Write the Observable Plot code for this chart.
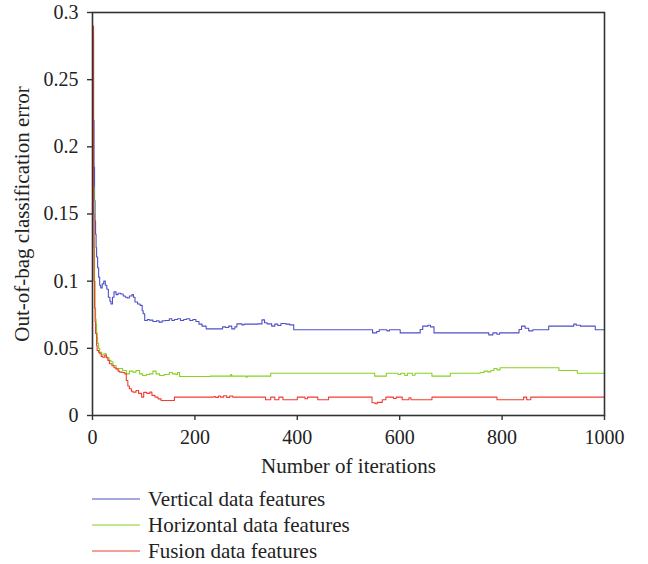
<!DOCTYPE html>
<html>
<head>
<meta charset="utf-8">
<script src="https://cdn.jsdelivr.net/npm/d3@7"></script>
<script src="https://cdn.jsdelivr.net/npm/@observablehq/plot@0.6"></script>
<style>
  html, body { margin: 0; padding: 0; background: #fff; }
  #wrap { position: relative; width: 648px; height: 564px; font-family: "Liberation Serif", "Times New Roman", serif; color: #222; }
  #legend { position: absolute; left: 0; top: 480px; width: 648px; }
  .row { position: absolute; left: 92px; height: 26px; display: flex; align-items: center; font-size: 21px; white-space: nowrap; }
  .row svg { margin-right: 8px; }
</style>
</head>
<body>
<div id="wrap"><div id="chart"></div><div id="legend"></div></div>
<script>
// ---- data ----
const seriesNames = ["Vertical data features", "Horizontal data features", "Fusion data features"];
const seriesColors = ["#4f4fc8", "#86d21e", "#f23c32"];

const xTicks = [0, 200, 400, 600, 800, 1000];
const xTickLabels = ["0", "200", "400", "600", "800", "1000"];
const yTicks = [0, 0.05, 0.1, 0.15, 0.2, 0.25, 0.3];
const yTickLabels = ["0", "0.05", "0.1", "0.15", "0.2", "0.25", "0.3"];

const verticalIter = [1,2,3,4,5,6,7,8,10,12,14,16,19,22,25,28,31,34,36,39,42,46,50,55,60,64,68,72,77,80,83,88,93,97,99,102,107,111,118,125,130,136,142,150,155,160,166,172,178,184,190,196,202,208,214,222,254,260,266,272,278,282,292,296,322,331,336,341,350,356,362,368,378,385,393,547,555,560,575,580,601,640,645,655,660,667,774,782,790,795,833,838,845,852,860,891,940,945,953,982,1000];
const verticalErr = [0.285,0.22,0.185,0.16,0.145,0.135,0.125,0.118,0.11,0.103,0.097,0.095,0.098,0.1,0.097,0.094,0.088,0.085,0.083,0.088,0.092,0.09,0.091,0.0905,0.089,0.088,0.0875,0.089,0.09,0.088,0.0845,0.083,0.082,0.078,0.0757,0.0707,0.0715,0.071,0.07,0.0705,0.0695,0.0705,0.0707,0.072,0.0707,0.0715,0.072,0.0707,0.0715,0.072,0.0707,0.0715,0.07,0.068,0.0665,0.0645,0.066,0.0655,0.0665,0.0645,0.066,0.0682,0.0675,0.068,0.0682,0.0712,0.069,0.0682,0.0665,0.068,0.067,0.0685,0.068,0.0675,0.0638,0.0615,0.0625,0.0638,0.063,0.0638,0.0615,0.064,0.0665,0.0672,0.066,0.0615,0.06,0.0615,0.0605,0.0615,0.064,0.0665,0.065,0.063,0.0638,0.0665,0.068,0.0672,0.0665,0.0638,0.0638];

const horizontalIter = [1,2,3,4,5,6,7,8,9,10,12,14,18,22,27,32,36,40,46,52,59,66,72,79,85,92,98,105,111,118,124,131,140,150,156,163,166,170,230,270,272,300,302,348,551,574,597,602,610,615,625,630,663,699,757,765,772,778,784,790,796,911,947,1000];
const horizontalErr = [0.28,0.17,0.125,0.1,0.08,0.072,0.068,0.062,0.058,0.0536,0.05,0.047,0.045,0.046,0.0434,0.041,0.04,0.0372,0.0347,0.035,0.0335,0.031,0.033,0.0323,0.0335,0.031,0.0298,0.0305,0.031,0.033,0.031,0.0298,0.0305,0.032,0.031,0.0305,0.032,0.029,0.0293,0.0305,0.0293,0.0285,0.0293,0.0315,0.0293,0.0315,0.0305,0.0315,0.0298,0.0315,0.03,0.0315,0.0293,0.0315,0.032,0.033,0.0325,0.0335,0.035,0.034,0.0355,0.0335,0.0315,0.0315];

const fusionIter = [1,2,3,4,5,6,8,9,12,14,17,20,24,27,30,33,38,42,46,50,53,58,63,66,69,72,76,79,85,90,96,100,106,112,116,122,128,134,160,237,240,246,250,256,262,268,274,318,338,348,356,364,372,380,400,415,420,440,461,546,552,556,566,573,588,593,605,618,622,663,790,842,848,856,862,1000];
const fusionErr = [0.29,0.15,0.1,0.08,0.07,0.061,0.052,0.0484,0.047,0.046,0.044,0.0434,0.045,0.043,0.041,0.0385,0.037,0.0355,0.0347,0.033,0.0323,0.032,0.031,0.026,0.022,0.0199,0.018,0.0174,0.0186,0.0165,0.0137,0.0172,0.0165,0.0174,0.015,0.0137,0.0124,0.0112,0.0137,0.0142,0.0135,0.0145,0.0137,0.0147,0.0135,0.0145,0.0137,0.0137,0.0117,0.0137,0.0117,0.0137,0.0117,0.0117,0.0137,0.0125,0.0137,0.0117,0.0137,0.0095,0.0088,0.0098,0.0117,0.0137,0.0127,0.0137,0.0117,0.0132,0.0117,0.0137,0.0117,0.0137,0.0117,0.0137,0.0137,0.0137];

// ---- build table ----
const table = [];
[[verticalIter, verticalErr], [horizontalIter, horizontalErr], [fusionIter, fusionErr]].forEach(([xs, ys], i) => {
  xs.forEach((x, j) => table.push({series: seriesNames[i], iter: x, err: ys[j]}));
});

const chart = Plot.plot({
  width: 648,
  height: 480,
  marginLeft: 92,
  marginRight: 44,
  marginTop: 12,
  marginBottom: 65,
  style: { fontFamily: "Liberation Serif, Times New Roman, serif", fontSize: "20px", color: "#222", background: "#fff", overflow: "visible" },
  x: { domain: [0, 1000] },
  y: { domain: [0, 0.3] },
  color: { domain: seriesNames, range: seriesColors },
  marks: [
    Plot.lineY(table, { x: "iter", y: "err", z: "series", stroke: "series", strokeWidth: 1.1, curve: "step-after" }),
    Plot.frame({ stroke: "#333", strokeWidth: 1.6 }),
    Plot.axisX({ ticks: xTicks, tickFormat: d => xTickLabels[xTicks.indexOf(d)], tickSize: 5, tickPadding: 9, stroke: "#333", strokeWidth: 1.4,
                 label: "Number of iterations", labelAnchor: "center", labelArrow: "none", labelOffset: 57, fontSize: 20 }),
    Plot.axisY({ ticks: yTicks, tickFormat: d => yTickLabels[yTicks.indexOf(d)], tickSize: 5, tickPadding: 9, stroke: "#333", strokeWidth: 1.4,
                 label: "Out-of-bag classification error", labelAnchor: "center", labelArrow: "none", labelOffset: 78, fontSize: 20 })
  ]
});
document.getElementById("chart").appendChild(chart);
// bigger axis titles
chart.querySelectorAll("[aria-label='x-axis label'] text, [aria-label='y-axis label'] text").forEach(t => t.setAttribute("font-size", "21"));

// ---- legend ----
const legend = document.getElementById("legend");
const rowTops = [6, 32, 58];
seriesNames.forEach((name, i) => {
  const row = document.createElement("div");
  row.className = "row";
  row.style.top = rowTops[i] + "px";
  row.innerHTML = `<svg width="48" height="4"><line x1="0" y1="2" x2="48" y2="2" stroke="${seriesColors[i]}" stroke-width="1.2"/></svg><span>${name}</span>`;
  legend.appendChild(row);
});
</script>
</body>
</html>
